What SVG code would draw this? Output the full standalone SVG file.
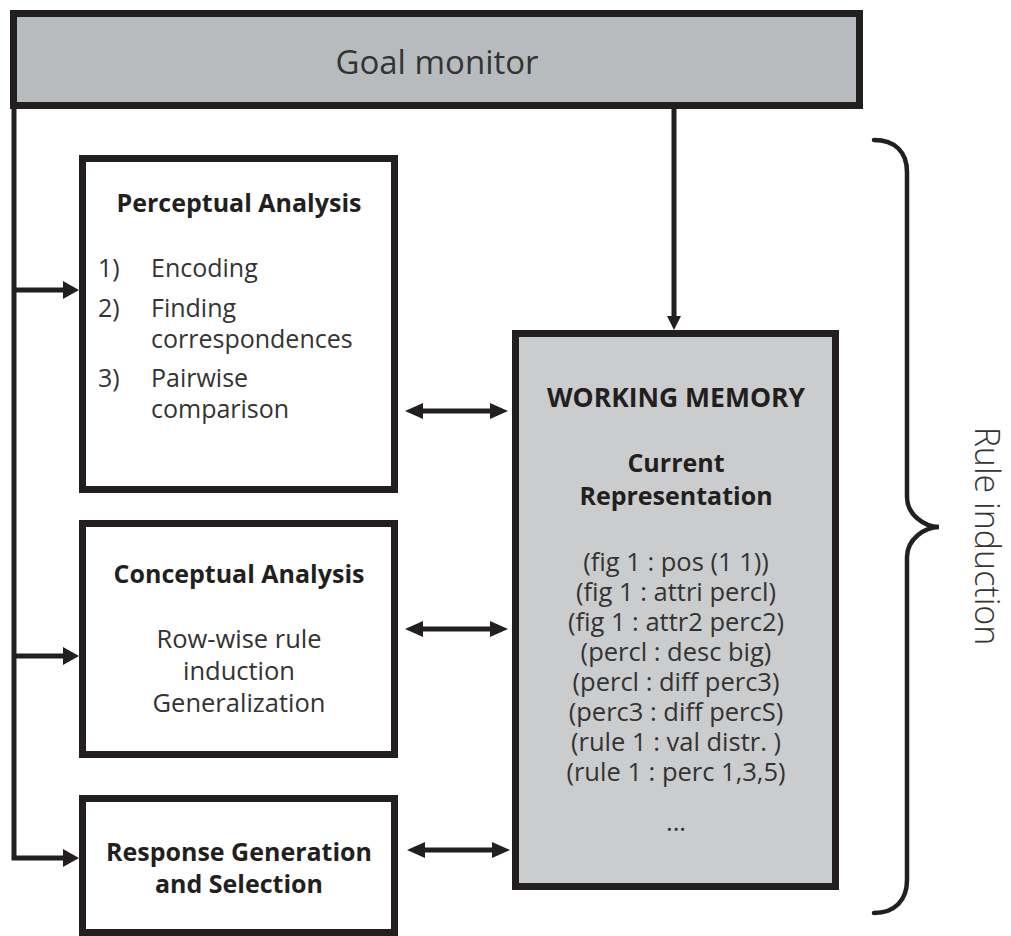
<svg xmlns="http://www.w3.org/2000/svg" width="1011" height="936" viewBox="0 0 1011 936">
  <style>
    .box { fill: #ffffff; stroke: #231f20; stroke-width: 7; }
    .grey { fill: #b8bbbe; }
    .wm { fill: #cbcccd; }
    .t { font-family: "Open Sans", "Noto Sans", sans-serif; fill: #333333; }
    .b { font-family: "Open Sans", "Noto Sans", sans-serif; font-weight: 700; fill: #231f20; }
    .c { text-anchor: middle; }
    .ln { fill: none; stroke: #231f20; stroke-width: 5; }
    .brace { fill: none; stroke: #231f20; stroke-width: 4.5; stroke-linecap: round; }
  </style>
  <defs>
    <marker id="head" viewBox="0 0 16 18" refX="8" refY="9" markerWidth="16" markerHeight="18" markerUnits="userSpaceOnUse" orient="auto-start-reverse">
      <path d="M0,0 L16,9 L0,18 Z" fill="#231f20"/>
    </marker>
    <marker id="head2" viewBox="0 0 18 16" refX="9" refY="8" markerWidth="18" markerHeight="16" markerUnits="userSpaceOnUse" orient="auto-start-reverse">
      <path d="M0,0 L18,8 L0,16 Z" fill="#231f20"/>
    </marker>
    <marker id="head3" viewBox="0 0 14 14" refX="7" refY="7" markerWidth="14" markerHeight="14" markerUnits="userSpaceOnUse" orient="auto">
      <path d="M0,0 L14,7 L0,14 Z" fill="#231f20"/>
    </marker>
  </defs>

  <!-- connectors -->
  <g id="connectors">
    <path class="ln" d="M14,106 L14,858 L71,858" marker-end="url(#head)"/>
    <path class="ln" d="M14,290 L71,290" marker-end="url(#head)"/>
    <path class="ln" d="M14,656 L71,656" marker-end="url(#head)"/>
    <path class="ln" d="M674,106 L674,323" marker-end="url(#head3)"/>
    <path class="ln" d="M414,411 L499,411" marker-start="url(#head2)" marker-end="url(#head2)"/>
    <path class="ln" d="M414,629 L499,629" marker-start="url(#head2)" marker-end="url(#head2)"/>
    <path class="ln" d="M416,850 L501,850" marker-start="url(#head2)" marker-end="url(#head2)"/>
  </g>

  <!-- goal monitor -->
  <g id="goal-monitor">
    <rect class="box grey" x="13.5" y="13.5" width="846" height="92"/>
    <text class="t c" x="437" y="74" font-size="33">Goal monitor</text>
  </g>

  <!-- perceptual analysis -->
  <g id="perceptual">
    <rect class="box" x="82.5" y="158.5" width="312" height="331"/>
    <text class="b c" x="239" y="212" font-size="25">Perceptual Analysis</text>
    <g class="t" font-size="25">
      <text x="98" y="277">1)</text>
      <text x="151" y="277">Encoding</text>
      <text x="98" y="317">2)</text>
      <text x="151" y="317">Finding</text>
      <text x="151" y="348">correspondences</text>
      <text x="98" y="387">3)</text>
      <text x="151" y="387">Pairwise</text>
      <text x="151" y="418">comparison</text>
    </g>
  </g>

  <!-- conceptual analysis -->
  <g id="conceptual">
    <rect class="box" x="82.5" y="523.5" width="312" height="231"/>
    <text class="b c" x="239" y="583" font-size="25">Conceptual Analysis</text>
    <g class="t c" font-size="25.5">
      <text x="239" y="648">Row-wise rule</text>
      <text x="239" y="680">induction</text>
      <text x="239" y="712">Generalization</text>
    </g>
  </g>

  <!-- response generation -->
  <g id="response">
    <rect class="box" x="82.5" y="798.5" width="312" height="134"/>
    <text class="b c" x="239" y="861" font-size="25">Response Generation</text>
    <text class="b c" x="239" y="893" font-size="25">and Selection</text>
  </g>

  <!-- working memory -->
  <g id="working-memory">
    <rect class="box wm" x="515.5" y="333.5" width="320" height="553"/>
    <text class="b c" x="676" y="407" font-size="26.5">WORKING MEMORY</text>
    <text class="b c" x="676" y="472" font-size="25">Current</text>
    <text class="b c" x="676" y="505" font-size="25">Representation</text>
    <g class="t c" font-size="25.5">
      <text x="676" y="571">(fig 1 : pos (1 1))</text>
      <text x="676" y="601">(fig 1 : attri percl)</text>
      <text x="676" y="631">(fig 1 : attr2 perc2)</text>
      <text x="676" y="661">(percl : desc big)</text>
      <text x="676" y="691">(percl : diff perc3)</text>
      <text x="676" y="721">(perc3 : diff percS)</text>
      <text x="676" y="751">(rule 1 : val distr. )</text>
      <text x="676" y="781">(rule 1 : perc 1,3,5)</text>
      <text x="676" y="831">...</text>
    </g>
  </g>

  <!-- rule induction brace -->
  <g id="rule-induction">
    <path class="brace" d="M874,140 C895,140 907,152 907,172 L907,497 C907,515 925,527 939,527 C925,527 907,539 907,557 L907,880 C907,900 895,913 874,913"/>
    <text class="t c" transform="translate(975,536) rotate(90)" font-size="34" font-weight="300">Rule induction</text>
  </g>
</svg>
